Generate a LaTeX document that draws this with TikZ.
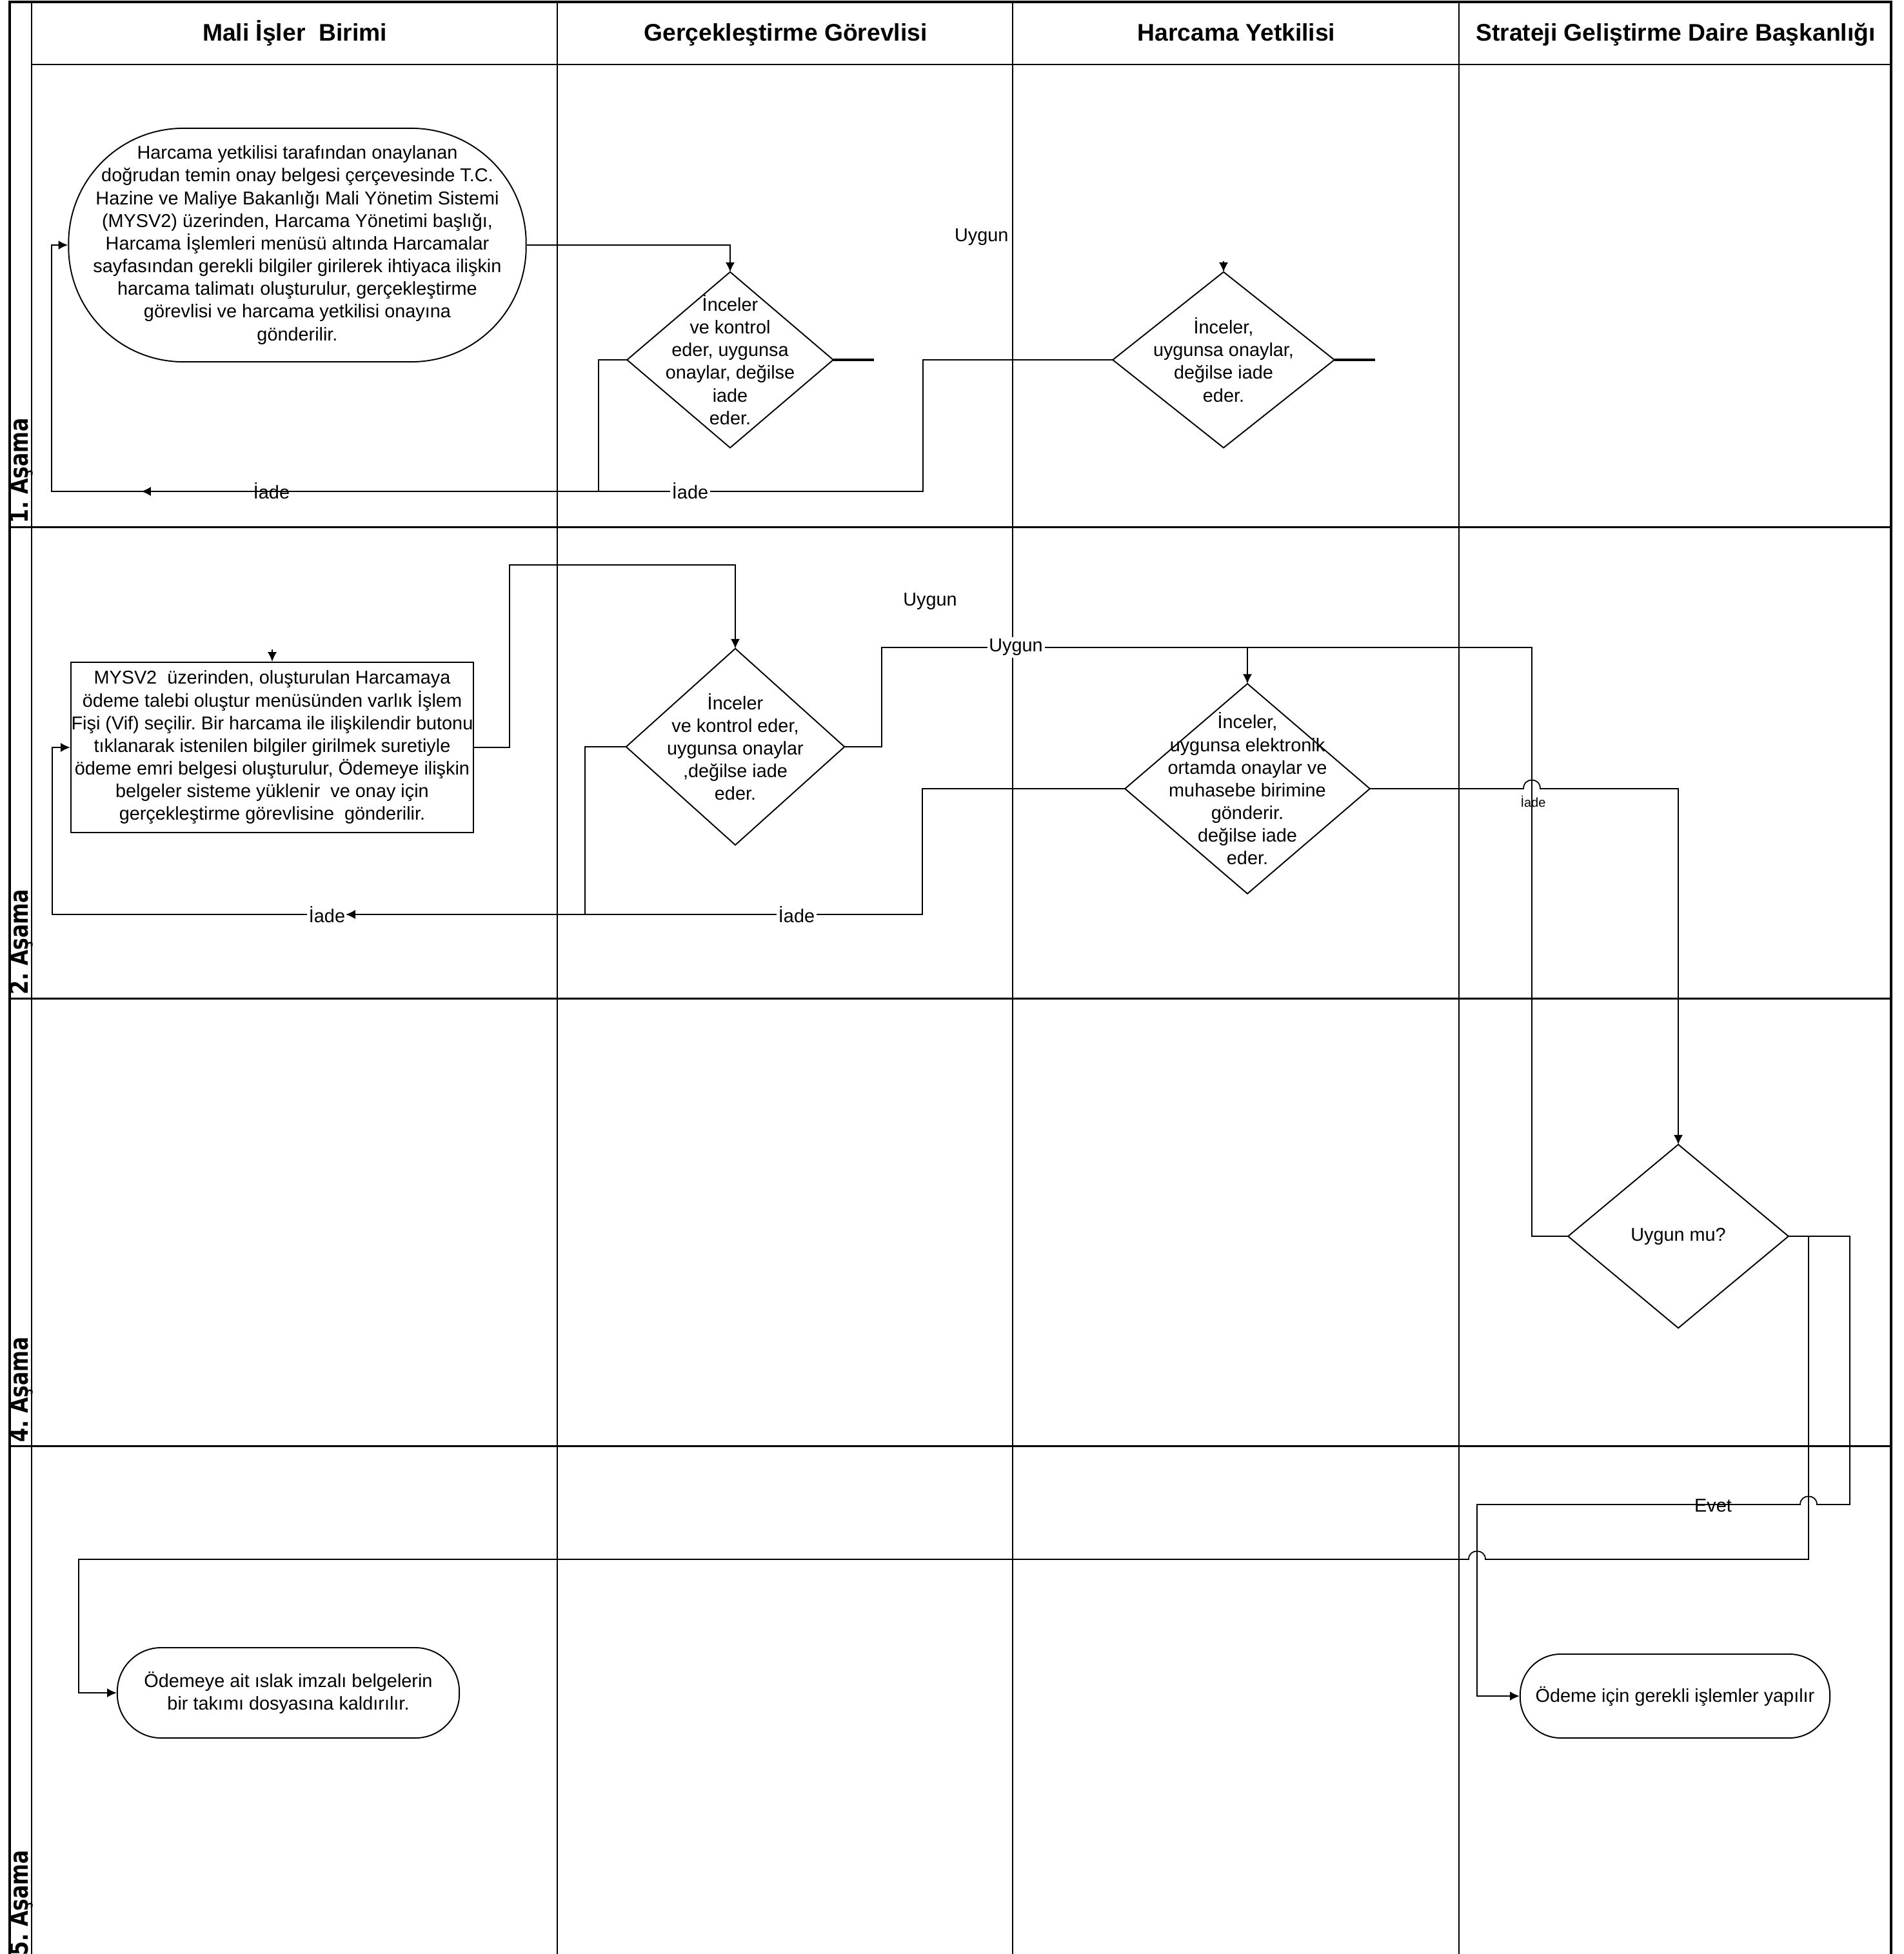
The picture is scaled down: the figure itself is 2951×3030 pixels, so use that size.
\documentclass[tikz,border=0pt]{standalone}
\usepackage{fontspec}
\setmainfont{Liberation Sans}
\newfontfamily\stagefont{DejaVu Sans}
\usetikzlibrary{arrows.meta}
\begin{document}
\frenchspacing
\begin{tikzpicture}[x=0.01cm,y=-0.01cm,
  conn/.style={line width=0.5pt},
  arr/.style={conn,-{Latex[length=4.2pt,width=4pt]}},
  body/.style={font=\fontsize{8.2}{10}\selectfont, align=center, inner sep=0pt},
  hdr/.style={font=\fontsize{10.6}{12}\selectfont\bfseries, inner sep=0pt, anchor=base},
  stg/.style={font=\stagefont\fontsize{11.2}{12}\selectfont\bfseries, inner sep=0pt, rotate=90, anchor=base west},
  lbl/.style={font=\fontsize{8.2}{10}\selectfont, inner sep=0.8pt},
  lblw/.style={lbl, fill=white},
  shp/.style={line width=0.55pt},
  stub/.style={line width=1.1pt}
]
\useasboundingbox (0,0) rectangle (2951,3030);
\fill[white] (0,0) rectangle (2951,3030);

% ---------- frame and swimlanes ----------
\draw[line width=0.7pt] (49,3) -- (49,3040);
\draw[line width=0.6pt] (864,3) -- (864,3040);
\draw[line width=0.6pt] (1570,3) -- (1570,3040);
\draw[line width=0.6pt] (2262,3) -- (2262,3040);
\draw[line width=0.7pt] (49,100) -- (2932,100);
\draw[line width=0.85pt] (15,817) -- (2932,817);
\draw[line width=0.85pt] (15,1548) -- (2932,1548);
\draw[line width=0.85pt] (15,2242) -- (2932,2242);
\draw[line width=1pt] (15,3040) -- (15,3) -- (2932,3) -- (2932,3040);

% ---------- headers ----------
\node[hdr] (h1) at (457,64) {Mali İşler\ \ Birimi};
\node[hdr] (h2) at (1218,64) {Gerçekleştirme Görevlisi};
\node[hdr] (h3) at (1917,64) {Harcama Yetkilisi};
\node[hdr] (h4) at (2598,64) {Strateji Geliştirme Daire Başkanlığı};

% ---------- stage labels ----------
\node[stg] (s1) at (44,812) {\scalebox{0.8}[1]{1. Aşama}};
\node[stg] (s2) at (44,1543) {\scalebox{0.8}[1]{2. Aşama}};
\node[stg] (s4) at (44,2237) {\scalebox{0.8}[1]{4. Aşama}};
\node[stg] (s5) at (44,3033) {\scalebox{0.8}[1]{5. Aşama}};

% ---------- stage 1 ----------
\node[body, draw, shp, rounded corners=1.78cm, minimum width=7.09cm, minimum height=3.62cm] (A) at (461,380)
 {Harcama yetkilisi tarafından onaylanan\\
  doğrudan temin onay belgesi çerçevesinde T.C.\\
  Hazine ve Maliye Bakanlığı Mali Yönetim Sistemi\\
  (MYSV2) üzerinden, Harcama Yönetimi başlığı,\\
  Harcama İşlemleri menüsü altında Harcamalar\\
  sayfasından gerekli bilgiler girilerek ihtiyaca ilişkin\\
  harcama talimatı oluşturulur, gerçekleştirme\\
  görevlisi ve harcama yetkilisi onayına\\
  gönderilir.};

\node[body, minimum width=3.18cm, minimum height=2.71cm] (D1) at (1132,558)
 {İnceler\\ve kontrol\\eder, uygunsa\\onaylar, değilse\\iade\\eder.};
\draw[shp] (D1.north) -- (D1.east) -- (D1.south) -- (D1.west) -- cycle;

\node[body, minimum width=3.42cm, minimum height=2.71cm] (D2) at (1897,558)
 {İnceler,\\uygunsa onaylar,\\değilse iade\\eder.};
\draw[shp] (D2.north) -- (D2.east) -- (D2.south) -- (D2.west) -- cycle;

\draw[arr] (A.east) -- (A.east -| D1.north) -- (D1.north);
\coordinate (st1) at (1355,558);
\draw[stub] (D1.east) -- (st1);
\coordinate (st2) at (2132,558);
\draw[stub] (D2.east) -- (st2);
\coordinate (t2) at (1897,405);
\draw[arr] (t2) -- (D2.north);
\node[lbl, anchor=east] (u1) at (1567,368) {Uygun};

\draw[conn] (D1.west) -- (928,558) -- (928,762);
\draw[arr] (D2.west) -- (1431,558) -- (1431,762) -- (80,762) |- (A.west);
\coordinate (m1a) at (245,762);
\coordinate (m1b) at (219,762);
\draw[arr] (m1a) -- (m1b);
\node[lbl] (i1) at (421,761) {İade};
\node[lblw] (i2) at (1070,761) {İade};

% ---------- stage 2 ----------
\node[body, draw, shp, minimum width=6.24cm, minimum height=2.64cm] (B) at (422,1159)
 {MYSV2\ \ üzerinden, oluşturulan Harcamaya\\
  ödeme talebi oluştur menüsünden varlık İşlem\\
  Fişi (Vif) seçilir. Bir harcama ile ilişkilendir butonu\\
  tıklanarak istenilen bilgiler girilmek suretiyle\\
  ödeme emri belgesi oluşturulur, Ödemeye ilişkin\\
  belgeler sisteme yüklenir\ \ ve onay için\\
  gerçekleştirme görevlisine\ \ gönderilir.};
\coordinate (tB) at (422,1007);
\draw[arr] (tB) -- (B.north);

\node[body, minimum width=3.37cm, minimum height=3.03cm] (D3) at (1140,1158)
 {İnceler\\ve kontrol eder,\\uygunsa onaylar\\,değilse iade\\eder.};
\draw[shp] (D3.north) -- (D3.east) -- (D3.south) -- (D3.west) -- cycle;

\node[body, minimum width=3.78cm, minimum height=3.24cm] (D4) at (1934,1223)
 {İnceler,\\uygunsa elektronik\\ortamda onaylar ve\\muhasebe birimine\\gönderir.\\değilse iade\\eder.};
\draw[shp] (D4.north) -- (D4.east) -- (D4.south) -- (D4.west) -- cycle;

\draw[arr] (B.east) -- (790,1159) -- (790,876) -| (D3.north);

\node[body, minimum width=3.40cm, minimum height=2.83cm] (D5) at (2602,1917) {Uygun mu?};
\draw[shp] (D5.north) -- (D5.east) -- (D5.south) -- (D5.west) -- cycle;

\draw[conn] (D3.east) -- (1367,1158) -- (1367,1004) -- (2375,1004) |- (D5.west);
\coordinate (j4) at (1934,1004);
\draw[arr] (j4) -- (D4.north);
\node[lblw] (u2) at (1575,1004) {Uygun};
\node[lbl] (u3) at (1442,933) {Uygun};

\draw[conn] (D3.west) -- (907,1158) -- (907,1418);
\draw[arr] (D4.west) -- (1430,1223) -- (1430,1418) -- (81,1418) |- (B.west);
\node[lblw] (i3) at (507,1418) {İade};
\coordinate (m2a) at (562,1418);
\coordinate (m2b) at (536,1418);
\draw[arr] (m2a) -- (m2b);
\node[lblw] (i4) at (1235,1418) {İade};

\draw[arr] (D4.east) -- (2362,1223) .. controls (2362,1205) and (2388,1205) .. (2388,1223)
  -- (2602,1223) -- (D5.north);
\node[font=\fontsize{5.7}{7}\selectfont, inner sep=0pt] (i5) at (2377,1243) {İade};

% ---------- stage 5 ----------
\node[body, draw, shp, rounded corners=0.68cm, minimum width=5.30cm, minimum height=1.40cm] (E1) at (447,2625)
 {Ödemeye ait ıslak imzalı belgelerin\\bir takımı dosyasına kaldırılır.};
\node[body, draw, shp, rounded corners=0.63cm, minimum width=4.80cm, minimum height=1.30cm] (E2) at (2597,2630)
 {Ödeme için gerekli işlemler yapılır};

\draw[arr] (D5.east) -- (2868,1917) -- (2868,2333) -- (2817,2333)
  .. controls (2817,2316) and (2791,2316) .. (2791,2333)
  -- (2290,2333) |- (E2.west);
\draw[arr] (D5.east) -- (2804,1917) -- (2804,2418) -- (2303,2418)
  .. controls (2303,2401) and (2277,2401) .. (2277,2418)
  -- (122,2418) |- (E1.west);
\node[lbl] (ev) at (2656,2335) {Evet};
\end{tikzpicture}
\end{document}
